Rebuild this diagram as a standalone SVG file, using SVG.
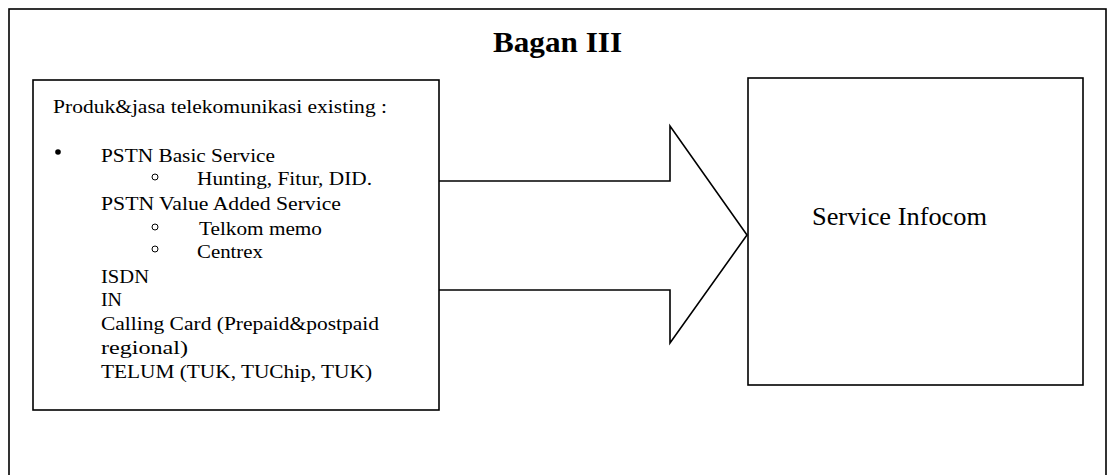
<svg xmlns="http://www.w3.org/2000/svg" width="1108" height="475" viewBox="0 0 1108 475">
<style>
.ln{fill:none;stroke:#000;stroke-width:1.6}
.t{font-family:'Liberation Serif',Tinos,'Times New Roman',Times,serif;font-size:19px;fill:#000}
.b{font-family:'Liberation Serif',Tinos,'Times New Roman',Times,serif;font-size:29px;font-weight:bold;fill:#000}
.s{font-family:'Liberation Serif',Tinos,'Times New Roman',Times,serif;font-size:25px;fill:#000}
.oc{fill:none;stroke:#000;stroke-width:1}
</style>
<rect width="1108" height="475" fill="#fff"/>
<g id="frame">
<rect class="ln" x="9" y="9" width="1097" height="480"/>
<text class="b" x="493" y="52" textLength="129" lengthAdjust="spacingAndGlyphs">Bagan III</text>
</g>
<g id="connectors">
<path class="ln" d="M439,181 H670 V126 L747,235 L670,343 V290 H439"/>
</g>
<g id="node-existing">
<rect class="ln" x="33" y="80" width="406" height="330"/>
<text class="t" x="53" y="113" textLength="334" lengthAdjust="spacingAndGlyphs">Produk&amp;jasa telekomunikasi existing :</text>
<circle cx="58" cy="152" r="2.8" fill="#000"/>
<text class="t" x="101" y="162" textLength="174" lengthAdjust="spacingAndGlyphs">PSTN Basic Service</text>
<circle class="oc" cx="155" cy="177" r="3"/>
<text class="t" x="197" y="185" textLength="175" lengthAdjust="spacingAndGlyphs">Hunting, Fitur, DID.</text>
<text class="t" x="101" y="210" textLength="240" lengthAdjust="spacingAndGlyphs">PSTN Value Added Service</text>
<circle class="oc" cx="155" cy="227" r="3"/>
<text class="t" x="199" y="235" textLength="123" lengthAdjust="spacingAndGlyphs">Telkom memo</text>
<circle class="oc" cx="155" cy="249" r="3"/>
<text class="t" x="197" y="258" textLength="66" lengthAdjust="spacingAndGlyphs">Centrex</text>
<text class="t" x="101" y="283" textLength="48" lengthAdjust="spacingAndGlyphs">ISDN</text>
<text class="t" x="101" y="306" textLength="21" lengthAdjust="spacingAndGlyphs">IN</text>
<text class="t" x="101" y="330" textLength="278" lengthAdjust="spacingAndGlyphs">Calling Card (Prepaid&amp;postpaid</text>
<text class="t" x="101" y="354" textLength="87" lengthAdjust="spacingAndGlyphs">regional)</text>
<text class="t" x="101" y="378" textLength="271" lengthAdjust="spacingAndGlyphs">TELUM (TUK, TUChip, TUK)</text>
</g>
<g id="node-infocom">
<rect class="ln" x="748" y="78" width="335" height="307"/>
<text class="s" x="812" y="225" textLength="175" lengthAdjust="spacingAndGlyphs">Service Infocom</text>
</g>
</svg>
